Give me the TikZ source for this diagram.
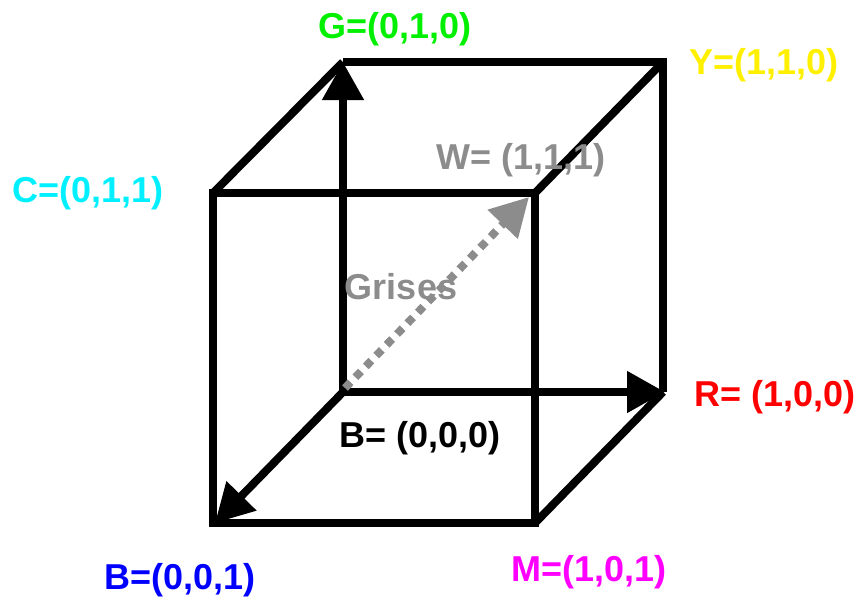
\documentclass[tikz,border=0pt]{standalone}
\usepackage{fontspec}
\setmainfont{Liberation Sans}
\usetikzlibrary{arrows.meta}
\definecolor{lgreen}{RGB}{0,240,0}
\definecolor{lyellow}{RGB}{255,240,0}
\definecolor{lcyan}{RGB}{0,240,255}
\definecolor{lgray}{RGB}{140,140,140}
\definecolor{lred}{RGB}{255,0,0}
\definecolor{lblue}{RGB}{0,0,255}
\definecolor{lmagenta}{RGB}{255,0,255}
\tikzset{
  edge/.style={line width=8pt,line join=miter},
  axis/.style={edge,-{Triangle[length=38pt,width=40pt]}},
  gris/.style={line width=8pt,lgray,dash pattern=on 8pt off 7pt,-{Triangle[length=38pt,width=40pt]}},
  lbl/.style={font=\fontsize{36}{40}\selectfont\bfseries,inner sep=0pt}
}
\begin{document}
\begin{tikzpicture}[x=1pt,y=-1pt]
\useasboundingbox (0,0) rectangle (859,598);
% corners of the cube
\coordinate (k) at (343,392);
\coordinate (g) at (343,62);
\coordinate (y) at (663,62);
\coordinate (r) at (663,392);
\coordinate (c) at (213,193);
\coordinate (w) at (535,193);
\coordinate (m) at (535,523);
\coordinate (b) at (213,523);
% edges
\draw[edge] (c) -- (w) -- (m) -- (b) -- cycle;
\draw[edge] (g) -- (y) -- (r);
\draw[edge] (c) -- (g);
\draw[edge] (w) -- (y);
\draw[edge] (m) -- (r);
\draw[axis] (k) -- (g);
\draw[axis] (k) -- ([xshift=2pt]r);
\draw[axis] (k) -- ([xshift=2pt]b);
\draw[gris] ([shift={(2,-4)}]k) -- ([shift={(-6,4)}]w);
% labels
\node[lbl,lgreen] (lg) at (395,29) {G=(0,1,0)};
\node[lbl,lyellow] (ly) at (764,65) {Y=(1,1,0)};
\node[lbl,lcyan] (lc) at (88,193) {C=(0,1,1)};
\node[lbl,lgray] (lw) at (521,160) {W= (1,1,1)};
\node[lbl,lgray] (lgr) at (401,287) {Grises};
\node[lbl,lred] (lr) at (775,397) {R= (1,0,0)};
\node[lbl] (lk) at (420,438) {B= (0,0,0)};
\node[lbl,lblue] (lb) at (180,580) {B=(0,0,1)};
\node[lbl,lmagenta] (lm) at (589,572) {M=(1,0,1)};
\end{tikzpicture}
\end{document}
